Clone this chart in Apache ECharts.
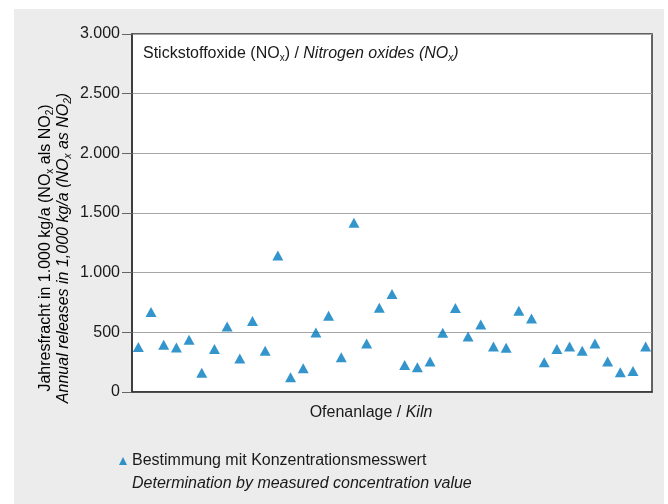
<!DOCTYPE html>
<html>
<head>
<meta charset="utf-8">
<script src="https://cdn.jsdelivr.net/npm/echarts@6/dist/echarts.min.js"></script>
<style>
  html, body { margin: 0; padding: 0; background: #fff; }
  #wrap { position: relative; width: 668px; height: 504px; }
  #panel { position: absolute; left: 14px; top: 9px; width: 650px; height: 495px; background: #ebeceb; }
  #chart { position: absolute; left: 0; top: 0; width: 668px; height: 504px; }
</style>
</head>
<body>
<div id="wrap">
  <div id="panel"></div>
  <div id="chart"></div>
</div>
<script>
// Ofenanlagen (Kilns) 1..41
var kilns = [];
for (var k = 1; k <= 41; k++) kilns.push(String(k));

// Jahresfracht NOx in 1.000 kg/a
var noxValues = [
  378, 670, 395, 372, 437, 162, 361, 549, 280, 594,
  345, 1143, 123, 199, 499, 639, 291, 1418, 406, 706,
  821, 227, 207, 255, 496, 703, 465, 566, 381, 370,
  681, 616, 249, 361, 381, 345, 406, 255, 165, 176,
  381
];

var yTickLabels = ["0", "500", "1.000", "1.500", "2.000", "2.500", "3.000"];

var font = "'Liberation Sans', Arial, sans-serif";
var txt = "#1a1a1a";
var blue = "#007bbf";
var fs = 16;

// rich styles for text with subscripts
var rich = {
  a: { fontFamily: font, fontSize: fs, fontWeight: "normal", color: txt, lineHeight: 18 },
  i: { fontFamily: font, fontSize: fs, fontWeight: "normal", color: txt, fontStyle: "italic", lineHeight: 18 },
  s: { fontFamily: font, fontSize: 10, fontWeight: "normal", color: txt, verticalAlign: "bottom", lineHeight: 10 },
  si: { fontFamily: font, fontSize: 10, fontWeight: "normal", color: txt, fontStyle: "italic", verticalAlign: "bottom", lineHeight: 10 }
};

var myChart = echarts.init(document.getElementById("chart"));

var option = {
  backgroundColor: "transparent",
  animation: false,
  title: {
    left: 138,
    top: 40,
    text: "{a|Stickstoffoxide (NO}{s|x}{a|) / }{i|Nitrogen oxides (NO}{si|x}{i|)}",
    textStyle: { fontWeight: "normal", rich: rich }
  },
  legend: {
    left: 119,
    top: 453,
    padding: 0,
    itemWidth: 8,
    itemHeight: 8,
    itemGap: 0,
    textStyle: { fontFamily: font, fontSize: fs, color: txt },
    data: [{ name: "Bestimmung mit Konzentrationsmesswert", icon: "triangle" }]
  },
  grid: {
    left: 132,
    right: 16,
    top: 34,
    bottom: 112,
    show: true,
    backgroundColor: "#fff",
    borderColor: "#333",
    borderWidth: 1.5
  },
  xAxis: {
    type: "category",
    data: kilns,
    boundaryGap: true,
    name: "{a|Ofenanlage / }{i|Kiln}",
    nameLocation: "middle",
    nameGap: 12,
    nameTextStyle: { rich: rich, verticalAlign: "top", padding: [0, 42, 0, 0] },
    axisLine: { lineStyle: { color: "#333", width: 1.5 } },
    axisTick: { show: false },
    axisLabel: { show: false },
    splitLine: { show: false }
  },
  yAxis: {
    type: "value",
    min: 0,
    max: 3000,
    interval: 500,
    axisLine: { show: true, lineStyle: { color: "#333", width: 1.5 } },
    axisTick: { show: true, length: 10, lineStyle: { color: "#666" } },
    axisLabel: {
      margin: 12,
      fontFamily: font,
      fontSize: fs,
      color: txt,
      formatter: function (v) { return yTickLabels[Math.round(v / 500)]; }
    },
    splitLine: { lineStyle: { color: "#a6a6a6", width: 1.2 } }
  },
  graphic: [
    {
      type: "text",
      x: 55,
      y: 248,
      rotation: Math.PI / 2,
      style: {
        text: "{a|Jahresfracht in 1.000 kg/a (NO}{s|x}{a| als NO}{s|2}{a|)}\n" +
              "{i|Annual releases in 1,000 kg/a (NO}{si|x}{i| as NO}{si|2}{i|)}",
        align: "center",
        verticalAlign: "middle",
        rich: rich
      }
    },
    {
      type: "text",
      left: 132,
      top: 476,
      style: {
        text: "Determination by measured concentration value",
        fontFamily: font,
        fontSize: fs,
        fontStyle: "italic",
        fill: txt
      }
    }
  ],
  series: [
    {
      name: "Bestimmung mit Konzentrationsmesswert",
      type: "scatter",
      symbol: "triangle",
      symbolSize: [11, 10],
      itemStyle: { color: blue },
      data: noxValues
    }
  ]
};

myChart.setOption(option);
</script>
</body>
</html>
